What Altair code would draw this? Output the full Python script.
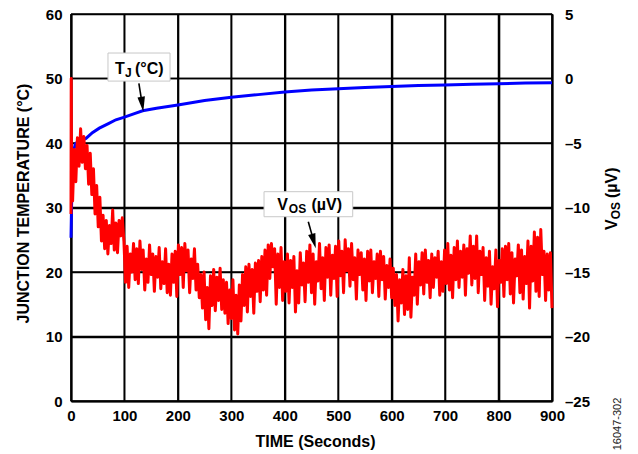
import altair as alt
import pandas as pd

FONT = "Liberation Sans"

# ---------------- axis ticks ----------------
time_ticks = [0, 100, 200, 300, 400, 500, 600, 700, 800, 900]
temp_ticks = [0, 10, 20, 30, 40, 50, 60]
vos_ticks = [-25, -20, -15, -10, -5, 0, 5]

# ---------------- junction temperature (blue, left axis) ----------------
blue_time = [0, 1, 2, 3, 5, 8, 12, 20, 28, 40, 53, 70, 84, 100, 120, 134, 160,
             200, 250, 300, 350, 400, 450, 500, 550, 600, 650, 700, 750, 800, 850, 900]
blue_temp = [25.3, 30.0, 34.0, 36.5, 38.8, 39.8, 40.2, 40.4, 40.7, 41.6, 42.3, 43.0, 43.6,
             44.0, 44.6, 45.0, 45.4, 45.9, 46.6, 47.1, 47.5, 47.9, 48.2, 48.4, 48.6, 48.75,
             48.9, 49.0, 49.1, 49.2, 49.3, 49.35]

# ---------------- offset voltage (red, right axis) ----------------
red_time_start = [0, 0.4, 1.2, 2]
red_vos_start = [-10.5, 0.0, -9.0, -5.5]
red_vos = [
    -9.5, -5.5, -8.0, -4.6, -6.8, -3.9, -6.5, -4.5, -7.0, -5.2,
    -8.2, -5.8, -9.0, -7.0, -10.5, -8.3, -11.5, -9.2, -12.6, -10.6,
    -13.2, -11.0, -13.6, -11.4, -12.8, -10.2, -13.3, -11.2, -13.5, -11.0,
    -12.2, -10.8, -12.6, -15.8, -13.0, -16.2, -13.6, -15.0, -12.8, -15.6,
    -13.2, -15.9, -12.6, -14.8, -13.3, -16.4, -14.0, -15.8, -12.9, -15.2,
    -13.6, -16.5, -13.8, -15.4, -13.1, -16.3, -14.2, -15.9, -13.2, -16.6,
    -14.4, -16.8, -13.6, -15.8, -13.4, -16.9, -12.9, -15.2, -13.1, -16.2,
    -12.8, -14.9, -13.3, -16.6, -14.0, -15.5, -13.2, -16.4, -14.4, -17.0,
    -15.2, -17.8, -15.0, -18.7, -16.2, -19.4, -15.3, -17.6, -14.8, -18.0,
    -15.4, -17.2, -14.7, -17.9, -15.6, -18.2, -15.8, -19.0, -16.4, -18.6,
    -15.6, -19.5, -16.8, -19.8, -16.0, -18.8, -15.2, -17.6, -14.6, -18.1,
    -14.4, -16.9, -14.8, -18.2, -14.3, -16.5, -14.1, -17.3, -13.8, -16.4,
    -13.3, -16.8, -12.9, -15.5, -12.8, -14.6, -13.2, -17.5, -13.6, -16.2,
    -13.1, -17.2, -14.2, -16.5, -13.6, -17.4, -14.1, -16.2, -13.8, -18.1,
    -14.9, -17.4, -13.5, -16.0, -14.3, -17.3, -13.4, -15.8, -12.9, -16.6,
    -13.6, -17.5, -14.2, -15.7, -12.8, -16.3, -13.9, -17.2, -13.1, -15.4,
    -12.9, -16.8, -13.7, -15.5, -13.0, -16.9, -12.6, -15.3, -13.4, -16.6,
    -12.5, -14.9, -13.2, -16.1, -12.8, -15.6, -13.9, -17.1, -13.3, -15.2,
    -13.5, -16.4, -14.0, -17.2, -13.4, -15.7, -13.3, -16.6, -14.2, -15.5,
    -13.6, -16.9, -13.4, -15.6, -13.8, -17.1, -14.5, -16.2, -14.0, -17.0,
    -14.7, -17.6, -15.2, -18.8, -15.6, -17.4, -14.8, -18.3, -15.3, -17.9,
    -13.9, -18.5, -15.4, -16.8, -13.6, -17.5, -14.2, -16.0, -13.5, -16.7,
    -13.3, -15.8, -14.1, -17.0, -13.6, -16.2, -13.9, -15.4, -13.4, -16.8,
    -14.2, -16.5, -13.3, -15.9, -12.8, -16.4, -13.7, -17.0, -13.1, -15.6,
    -12.6, -16.2, -13.4, -15.4, -12.9, -16.8, -13.2, -15.1, -12.2, -16.0,
    -13.0, -15.5, -12.2, -16.6, -13.4, -15.2, -13.1, -17.2, -13.9, -16.1,
    -13.4, -17.5, -14.6, -16.3, -13.3, -17.7, -14.1, -15.8, -13.2, -16.9,
    -13.0, -15.6, -12.8, -16.7, -13.5, -17.4, -14.0, -15.3, -12.9, -16.6,
    -13.3, -17.1, -13.8, -15.9, -12.6, -17.8, -13.0, -15.7, -11.9, -16.5,
    -12.3, -16.9, -11.7, -15.2, -13.4, -17.2, -13.6, -16.4, -13.5, -17.8,
]
red_time = red_time_start + list(range(3, 901, 3))
red_values = red_vos_start + red_vos

# ---------------- annotations (data coordinates) ----------------
ann_text = ["T", "J", "(°C)", "V", "OS", "(µV)"]
ann_time = [82.3, 101.0, 119.8, 386.0, 407.6, 450.0]
ann_temp = [50.70, 50.23, 50.70, 29.61, 29.07, 29.61]
ann_size = [16, 12, 16, 16, 12, 16]

box_t1 = [69.2, 361.2]
box_t2 = [185.3, 527.1]
box_y1 = [53.95, 32.45]
box_y2 = [49.6, 28.57]

shaft_t1 = [127.0, 444.0]
shaft_t2 = [133.3, 454.2]
shaft_y1 = [49.26, 27.8]
shaft_y2 = [46.0, 24.79]

head_t = [133.3, 454.2]
head_y = [46.0, 24.79]
head_angle = [352, 344.5]

rtitle_text = ["V", "OS", "(µV)"]
rtitle_time = [1021.1, 1027.3, 1021.1]
rtitle_temp = [26.51, 28.17, 31.47]
rtitle_size = [16, 12, 16]

mark_text = ["16047-302"]
mark_time = [1023.6]
mark_temp = [-3.57]

# ---------------- tables ----------------
blue_df = pd.DataFrame({"time": blue_time, "temp": blue_temp})
red_df = pd.DataFrame({"time": red_time, "vos": red_values})
ann_df = pd.DataFrame({"text": ann_text, "time": ann_time, "temp": ann_temp, "size": ann_size})
box_df = pd.DataFrame({"time": box_t1, "time2": box_t2, "temp": box_y1, "temp2": box_y2})
shaft_df = pd.DataFrame({"time": shaft_t1, "time2": shaft_t2, "temp": shaft_y1, "temp2": shaft_y2})
head_df = pd.DataFrame({"time": head_t, "temp": head_y, "angle": head_angle})
rtitle_df = pd.DataFrame({"text": rtitle_text, "time": rtitle_time, "temp": rtitle_temp, "size": rtitle_size})
mark_df = pd.DataFrame({"text": mark_text, "time": mark_time, "temp": mark_temp})
vgrid_df = pd.DataFrame({"time": time_ticks})
hgrid_df = pd.DataFrame({"temp": temp_ticks})

# ---------------- scales & axes ----------------
x_scale = alt.Scale(domain=[0, 900], nice=False, zero=False)
y_scale = alt.Scale(domain=[0, 60], nice=False, zero=False)
v_scale = alt.Scale(domain=[-25, 5], nice=False, zero=False)

common = dict(labelFont=FONT, titleFont=FONT, labelFontWeight="bold", titleFontWeight="bold",
              labelColor="black", titleColor="black", titleFontSize=16, labelFontSize=15,
              domainColor="black", domainWidth=2, ticks=False, labelFlush=False,
              grid=True, gridColor="black", gridWidth=1.6, gridOpacity=1)

x_axis = alt.Axis(values=time_ticks, title="TIME (Seconds)", labelPadding=7,
                  titleX=244, titleY=45.5, titleBaseline="alphabetic", titleAlign="center",
                  **common)
y_axis = alt.Axis(values=temp_ticks, title="JUNCTION TEMPERATURE (°C)", orient="left",
                  labelPadding=9, titleAngle=270, titleX=-42.7, titleY=189,
                  titleBaseline="alphabetic", titleAlign="center", **common)
common_v = dict(common)
common_v["grid"] = False
v_axis = alt.Axis(values=vos_ticks, title=None, orient="right", labelPadding=12.5,
                  labelExpr="datum.value < 0 ? '–' + abs(datum.value) : datum.label",
                  **common_v)

X = alt.X("time:Q", scale=x_scale, axis=x_axis)
X2 = alt.X2("time2:Q")
Y = alt.Y("temp:Q", scale=y_scale, axis=y_axis)
Yn = alt.Y("temp:Q", scale=y_scale, axis=None)   # same temperature scale, no extra axis
Y2 = alt.Y2("temp2:Q")

vgrid = alt.Chart(vgrid_df).mark_rule(color="black", strokeWidth=1.6).encode(x=X)
hgrid = alt.Chart(hgrid_df).mark_rule(color="black", strokeWidth=1.6).encode(y=Yn)

blue = alt.Chart(blue_df).mark_line(color="#0000FF", strokeWidth=3).encode(x=X, y=Y)

boxes = alt.Chart(box_df).mark_rect(fill="white", stroke="#c8c8c8", strokeWidth=1).encode(
    x=X, x2=X2, y=Yn, y2=Y2)

shafts = alt.Chart(shaft_df).mark_rule(color="black", strokeWidth=1.6).encode(
    x=X, x2=X2, y=Yn, y2=Y2)

heads = alt.Chart(head_df).mark_point(
    shape="M-0.5,-1L0.5,-1L0,1Z", filled=True, fill="black", opacity=1, size=225
).encode(x=X, y=Yn, angle=alt.Angle("angle:Q", scale=None))

ann = alt.Chart(ann_df).mark_text(
    font=FONT, fontWeight="bold", color="black", align="left", baseline="alphabetic"
).encode(x=X, y=Yn, text="text:N", size=alt.Size("size:Q", scale=None, legend=None))

rtitle = alt.Chart(rtitle_df).mark_text(
    font=FONT, fontWeight="bold", color="black", align="left", baseline="alphabetic", angle=270
).encode(x=X, y=Yn, text="text:N", size=alt.Size("size:Q", scale=None, legend=None))

wmark = alt.Chart(mark_df).mark_text(
    font=FONT, fontSize=11, color="#222222", align="center", baseline="middle", angle=270
).encode(x=X, y=Yn, text="text:N")

red = alt.Chart(red_df).mark_line(color="#FF0000", strokeWidth=3, strokeJoin="round").encode(
    x=X, y=alt.Y("vos:Q", scale=v_scale, axis=v_axis))

chart = alt.layer(
    vgrid, hgrid, blue, red, boxes, shafts, heads, ann, rtitle, wmark
).resolve_scale(y="independent").properties(
    width=481, height=387,
    autosize=alt.AutoSizeParams(type="none"),
    padding={"left": 71, "top": 14, "right": 86, "bottom": 53},
)

chart.save("out.html", embed_options={"renderer": "svg", "actions": False})
